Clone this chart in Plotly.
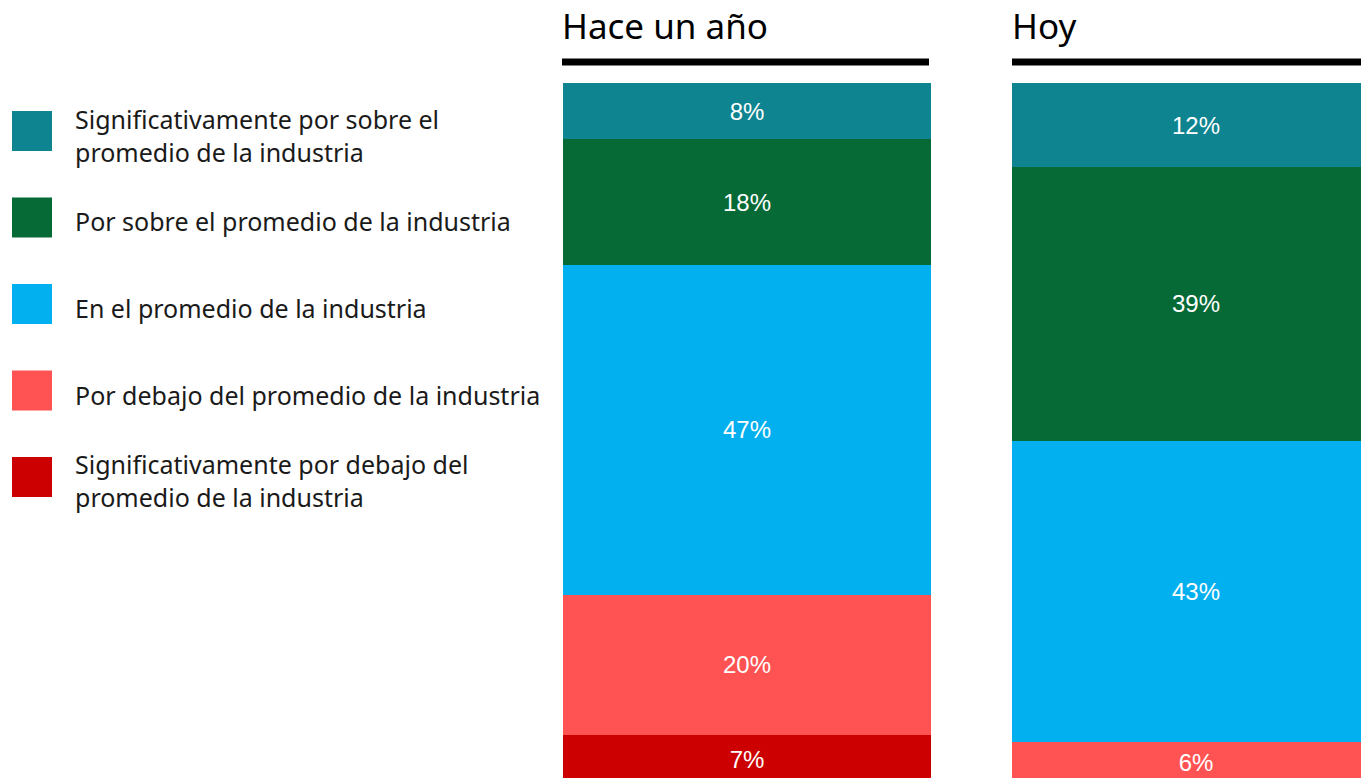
import plotly.graph_objects as go

# ── Data ──
categories = [
    "Significativamente por sobre el<br>promedio de la industria",
    "Por sobre el promedio de la industria",
    "En el promedio de la industria",
    "Por debajo del promedio de la industria",
    "Significativamente por debajo del<br>promedio de la industria",
]
colors = ["#0E8490", "#066A37", "#02B0F0", "#FF5353", "#CC0000"]
periods = ["Hace un año", "Hoy"]
hace_un_ano = [8, 18, 47, 20, 7]
hoy = [12, 39, 43, 6, 0]

W, H = 1361, 778
FONT_TXT = "Noto Sans, Open Sans, sans-serif"
FONT_NUM = "Liberation Sans, Arial, sans-serif"


def px(x):
    """page pixel x -> paper coord"""
    return x / W


def py(y):
    """page pixel y -> paper coord"""
    return 1 - y / H


fig = go.Figure()

# stack from the bottom: last category first
for series, xa, ya in [(hace_un_ano, "x", "y"), (hoy, "x2", "y2")]:
    for i in reversed(range(len(categories))):
        v = series[i]
        fig.add_trace(go.Bar(
            x=[0], y=[v],
            xaxis=xa, yaxis=ya,
            marker=dict(color=colors[i], line=dict(width=0)),
            width=1,
            text=[f"{v}%" if v else ""],
            textposition="inside",
            insidetextanchor="middle",
            textfont=dict(color="white", size=24, family=FONT_NUM),
            showlegend=False,
            hoverinfo="skip",
        ))

# ── Axes ──  (bars run past the bottom and right page edges)
bar_top, bar_bot = 83, 784
left_x0, bar_px = 563, 368
right_x0 = 1012
px_per_pct = (bar_bot - bar_top) / 100
y_lo = (bar_bot - H) / px_per_pct
y_dom = [0, py(bar_top)]
vis_right = (W - right_x0) / bar_px

fig.update_layout(
    width=W, height=H,
    margin=dict(l=0, r=0, t=0, b=0),
    paper_bgcolor="white", plot_bgcolor="white",
    barmode="stack",
    xaxis=dict(domain=[px(left_x0), px(left_x0 + bar_px)], range=[-0.5, 0.5],
               visible=False),
    yaxis=dict(domain=y_dom, range=[y_lo, 100], visible=False, anchor="x"),
    xaxis2=dict(domain=[px(right_x0), 1], range=[-0.5, -0.5 + vis_right],
                visible=False, anchor="y2"),
    yaxis2=dict(domain=y_dom, range=[y_lo, 100], visible=False, anchor="x2"),
)

# ── Column headers with thick rule underneath ──
for x0, x1, label in [(562, 929, periods[0]), (1012, W, periods[1])]:
    fig.add_annotation(
        x=px(x0 - 2), y=py(25), xref="paper", yref="paper",
        xanchor="left", yanchor="middle", showarrow=False,
        text=label, font=dict(size=35, color="black", family=FONT_TXT),
    )
    fig.add_shape(
        type="line", xref="paper", yref="paper",
        x0=px(x0), x1=px(x1), y0=py(62), y1=py(62),
        line=dict(color="black", width=7),
    )

# ── Custom legend ──
leg_y0, leg_step, sq = 131, 86.5, 40
for i, (name, col) in enumerate(zip(categories, colors)):
    cy = leg_y0 + i * leg_step
    fig.add_shape(
        type="rect", xref="paper", yref="paper",
        x0=px(12), x1=px(12 + sq),
        y0=py(cy - sq / 2), y1=py(cy + sq / 2),
        fillcolor=col, line=dict(width=0),
    )
    fig.add_annotation(
        x=px(73), y=py(cy + 4), xref="paper", yref="paper",
        xanchor="left", yanchor="middle", align="left", showarrow=False,
        text=name, font=dict(size=25, color="#1a1a1a", family=FONT_TXT),
    )

fig.write_html(
    "out.html",
    config={"displayModeBar": False},
    post_script="document.body.style.margin='0';"
                "document.body.style.overflow='hidden';",
)
